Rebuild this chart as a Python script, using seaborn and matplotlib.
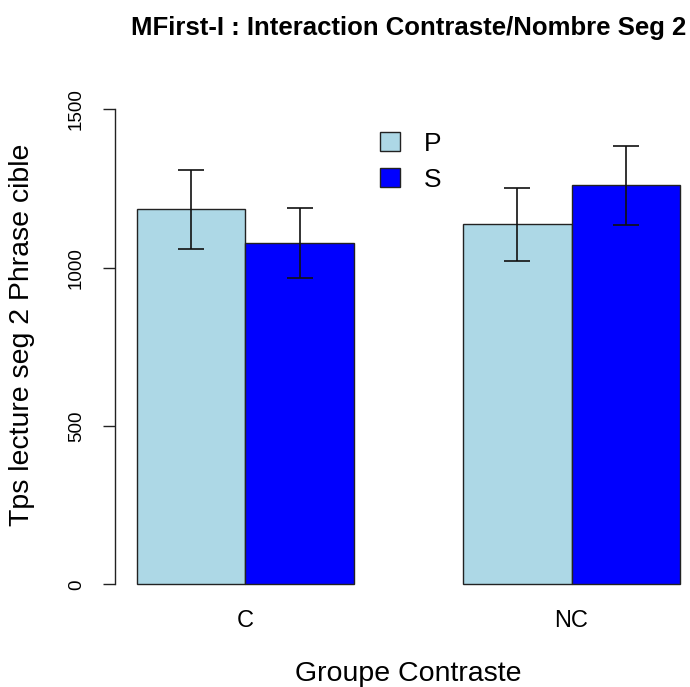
import matplotlib
matplotlib.use("Agg")
import matplotlib.pyplot as plt
from matplotlib.patches import Patch
import seaborn as sns
import pandas as pd
import numpy as np

# ---- data ----
groups = ["C", "NC"]
series = ["P", "S"]
means_P = [1184, 1137]
means_S = [1077, 1260]
se_P = [125, 115]
se_S = [111, 124]
yticks = [0, 500, 1000, 1500]
colors = {"P": "#ADD8E6", "S": "#0000FF"}

df = pd.DataFrame({
    "Groupe": groups * 2,
    "Nombre": ["P"] * len(groups) + ["S"] * len(groups),
    "Tps": means_P + means_S,
    "SE": se_P + se_S,
})

sns.set_theme(style="white")
plt.rcParams["font.family"] = ["Liberation Sans", "DejaVu Sans"]
plt.rcParams["text.color"] = "black"
plt.rcParams["axes.labelcolor"] = "black"
plt.rcParams["xtick.color"] = "black"
plt.rcParams["ytick.color"] = "black"

W, H = 690, 687
fig = plt.figure(figsize=(W / 100, H / 100), dpi=100)
ax = fig.add_axes([115 / W, (H - 603.3) / H, 587 / W, 513 / H])

sns.barplot(data=df, x="Groupe", y="Tps", hue="Nombre", order=groups,
            hue_order=series, palette=colors, width=2 / 3, gap=0,
            errorbar=None, edgecolor="#222222", linewidth=1.0, ax=ax,
            legend=False, saturation=1)

# error bars at the bar centres
for cont, lvl in zip(ax.containers, series):
    sub = df[df["Nombre"] == lvl].set_index("Groupe").loc[groups]
    xs = [b.get_x() + b.get_width() / 2 for b in cont]
    ax.errorbar(xs, sub["Tps"].values, yerr=sub["SE"].values, fmt="none",
                ecolor="#111111", elinewidth=1.2, capsize=9.7, capthick=1.2)

ax.set_xlim(-0.4, 1.4)
ax.set_ylim(-60, 1560)
ax.set_yticks(yticks)
ax.set_yticklabels([str(t) for t in yticks], rotation=90, va="center",
                   fontsize=13.5)
for s in ["top", "right", "bottom"]:
    ax.spines[s].set_visible(False)
ax.spines["left"].set_bounds(0, 1500)
ax.spines["left"].set_color("#222222")
ax.spines["left"].set_linewidth(1.0)
ax.tick_params(axis="y", length=8.6, width=1.0, color="#222222", pad=13,
               left=True)
ax.tick_params(axis="x", length=0, pad=5, labelsize=17)
ax.grid(False)

ax.set_xlabel("Groupe Contraste", fontsize=20.5)
ax.xaxis.set_label_coords(0.5, -0.1125)
ax.set_ylabel("Tps lecture seg 2 Phrase cible", fontsize=20.5)
ax.yaxis.set_label_coords(-0.136, 0.523)
ax.set_title("MFirst-I : Interaction Contraste/Nombre Seg 2",
             fontsize=18.5, fontweight="bold", y=1 + (90.3 - 35) / 513, pad=0)

handles = [Patch(facecolor=colors[s], edgecolor="#222222", linewidth=1.0)
           for s in series]
ax.legend(handles, series, loc="upper left",
          bbox_to_anchor=(380 / W, (H - 132) / H),
          bbox_transform=fig.transFigure, frameon=False, fontsize=19,
          handlelength=0.75, handleheight=0.72, handletextpad=0.9,
          labelspacing=0.45, borderpad=0, borderaxespad=0)

fig.savefig("out.png", dpi=100)
